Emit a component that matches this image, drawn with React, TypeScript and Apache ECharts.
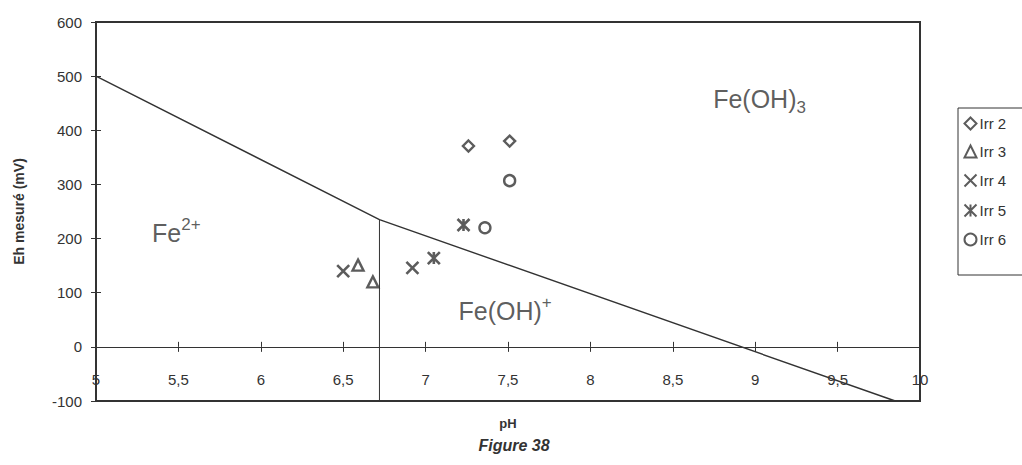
import React, { useEffect, useRef } from "react";
import * as echarts from "echarts";

// Axis ranges and ticks
const xMin = 5;
const xMax = 10;
const xStep = 0.5;
const yMin = -100;
const yMax = 600;
const yStep = 100;

// Measured points [pH, Eh mV]
const irr2 = [[7.26, 371], [7.51, 380]];
const irr3 = [[6.59, 151], [6.68, 120]];
const irr4 = [[6.5, 140], [6.92, 146]];
const irr5 = [[7.05, 164], [7.23, 225]];
const irr6 = [[7.36, 220], [7.51, 307]];

// Stability-field boundaries
const boundary = [[5, 500], [6.72, 235], [9.85, -100]];
const verticalBoundary = [[6.72, 235], [6.72, -100]];

// Field labels [pH, Eh, rich text]
const fieldLabels = [
  [5.34, 211, "{m|Fe}{sup|2+}"],
  [7.2, 66, "{m|Fe(OH)}{sup|+}"],
  [8.745, 458, "{m|Fe(OH)}{sub|3}"],
];

const seriesNames = ["Irr 2", "Irr 3", "Irr 4", "Irr 5", "Irr 6"];

const INK = "#333";
const FONT = "'Liberation Sans', Arial, sans-serif";

export default function App() {
  const ref = useRef<HTMLDivElement>(null);
  useEffect(() => {
    document.body.style.margin = "0";
    const chart = echarts.init(ref.current!, null, { renderer: "svg" });
    const markerStyle = {
      color: "#fff",
      borderColor: INK,
      borderWidth: 2.4,
    };
    const pathStyle = {
      color: "none",
      borderColor: INK,
      borderWidth: 2.6,
    };
    const commonX = { type: "value", min: xMin, max: xMax, interval: xStep };
    const commonY = { type: "value", min: yMin, max: yMax, interval: yStep };
    chart.setOption({
      animation: false,
      backgroundColor: "#fff",
      textStyle: { fontFamily: FONT, color: INK },
      grid: {
        left: 96,
        right: 102,
        top: 22,
        bottom: 64,
        show: true,
        borderColor: INK,
        borderWidth: 2,
        backgroundColor: "transparent",
        containLabel: false,
        outerBoundsMode: "none",
      },
      title: {
        text: "Figure 38",
        left: 509,
        top: 432,
        textAlign: "center",
        textStyle: {
          fontFamily: FONT,
          fontSize: 16,
          fontWeight: "bold",
          fontStyle: "italic",
          color: INK,
        },
      },
      legend: {
        orient: "vertical",
        left: 958,
        top: 108,
        data: seriesNames,
        itemWidth: 12,
        itemHeight: 12,
        itemGap: 13,
        borderColor: INK,
        borderWidth: 1,
        padding: [8, 30, 28, 4],
        textStyle: { fontFamily: FONT, fontSize: 15, color: INK, padding: [0, 0, 0, -2] },
      },
      xAxis: [
        {
          ...commonX,
          axisLine: { onZero: true, lineStyle: { color: INK, width: 1 } },
          axisTick: { show: true, length: 5, lineStyle: { color: INK } },
          axisLabel: { show: false },
          splitLine: { show: false },
        },
        {
          ...commonX,
          position: "bottom",
          name: "pH",
          nameLocation: "middle",
          nameGap: 16,
          nameTextStyle: { fontFamily: FONT, fontSize: 13, fontWeight: "bold", color: INK },
          axisLine: { show: false, onZero: false },
          axisTick: { show: false },
          axisLabel: {
            inside: true,
            margin: 14,
            fontSize: 15,
            color: INK,
            fontFamily: FONT,
            showMinLabel: true,
            showMaxLabel: true,
            formatter: (v: number) => String(v).replace(".", ","),
          },
          splitLine: { show: false },
        },
        {
          ...commonX,
          position: "bottom",
          axisLine: { show: false, onZero: true },
          axisTick: { show: true, inside: true, length: 5, lineStyle: { color: INK } },
          axisLabel: { show: false },
          splitLine: { show: false },
        },
      ],
      yAxis: [
        {
          ...commonY,
          name: "Eh mesuré (mV)",
          nameLocation: "middle",
          nameGap: 70,
          nameTextStyle: { fontFamily: FONT, fontSize: 14, fontWeight: "bold", color: INK },
          axisLine: { show: true, lineStyle: { color: INK, width: 2 } },
          axisTick: { show: true, length: 5, lineStyle: { color: INK } },
          axisLabel: { fontSize: 15, color: INK, fontFamily: FONT, margin: 14 },
          splitLine: { show: false },
        },
        {
          ...commonY,
          position: "left",
          axisLine: { show: false },
          axisTick: { show: true, inside: true, length: 5, lineStyle: { color: INK } },
          axisLabel: { show: false },
          splitLine: { show: false },
        },
      ],
      series: [
        {
          type: "line",
          data: boundary,
          symbol: "none",
          lineStyle: { color: INK, width: 1.4 },
          silent: true,
        },
        {
          type: "line",
          data: verticalBoundary,
          symbol: "none",
          lineStyle: { color: INK, width: 1 },
          silent: true,
        },
        {
          type: "scatter",
          data: fieldLabels.map((d) => [d[0], d[1], d[2]]),
          symbolSize: 0,
          silent: true,
          label: {
            show: true,
            position: "right",
            distance: 0,
            formatter: (p: any) => p.data[2],
            rich: {
              m: { fontSize: 25, color: INK, fontFamily: FONT, lineHeight: 34, verticalAlign: "middle" },
              sup: { fontSize: 17, color: INK, fontFamily: FONT, lineHeight: 16, verticalAlign: "top" },
              sub: { fontSize: 17, color: INK, fontFamily: FONT, lineHeight: 20, verticalAlign: "bottom" },
            },
          },
        },
        {
          name: "Irr 2",
          type: "scatter",
          data: irr2,
          symbol: "diamond",
          symbolSize: 11,
          itemStyle: markerStyle,
        },
        {
          name: "Irr 3",
          type: "scatter",
          data: irr3,
          symbol: "triangle",
          symbolSize: 11,
          itemStyle: markerStyle,
        },
        {
          name: "Irr 4",
          type: "scatter",
          data: irr4,
          symbol: "path://M0,0L10,10M10,0L0,10",
          symbolSize: 12,
          itemStyle: pathStyle,
        },
        {
          name: "Irr 5",
          type: "scatter",
          data: irr5,
          symbol: "path://M0,0L10,10M10,0L0,10M5,0L5,10",
          symbolSize: 12,
          itemStyle: pathStyle,
        },
        {
          name: "Irr 6",
          type: "scatter",
          data: irr6,
          symbol: "circle",
          symbolSize: 11,
          itemStyle: markerStyle,
        },
      ],
    });
    return () => chart.dispose();
  }, []);
  return <div ref={ref} style={{ width: 1022, height: 465 }} />;
}
